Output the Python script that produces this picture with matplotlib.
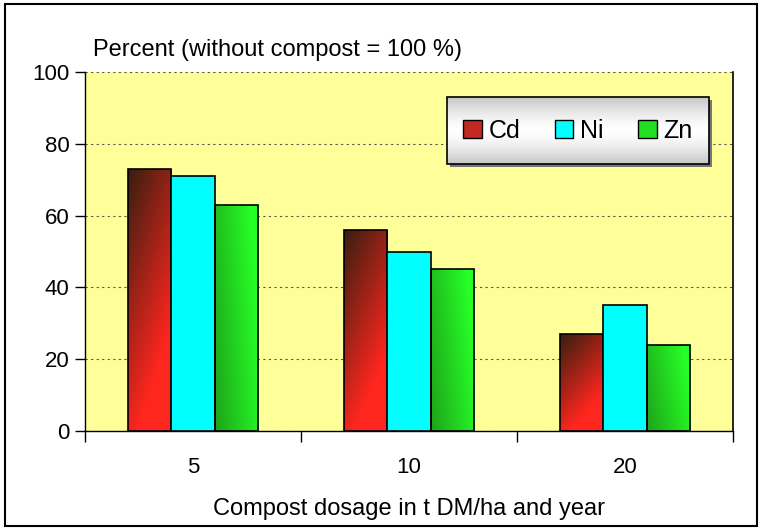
import numpy as np
import matplotlib.pyplot as plt
from matplotlib.patches import Rectangle, Patch

plt.rcParams['font.family'] = ['Liberation Sans', 'DejaVu Sans']

# data
dosages = ['5', '10', '20']
metals = ['Cd', 'Ni', 'Zn']
cd = [73, 56, 27]
ni = [71, 50, 35]
zn = [63, 45, 24]

fig = plt.figure(figsize=(7.62, 5.30), dpi=100)
fig.patch.set_facecolor('white')
# outer black frame
fig.add_artist(Rectangle((0.006, 0.008), 0.988, 0.985, transform=fig.transFigure,
                         fill=False, edgecolor='black', linewidth=1.5))

ax = fig.add_axes([85 / 762, 99 / 530, 648 / 762, 359 / 530])
ax.set_facecolor('#FFFF99')

x = np.arange(len(dosages))
w = 0.2


def grad_bar(xc, h, kind):
    bar = ax.bar(xc, h, w, facecolor='none', edgecolor='black', linewidth=1.2, zorder=3)[0]
    if kind == 'solid':
        bar.set_facecolor('#00FFFF')
        return
    n = 60
    u = np.linspace(0, 1, n)[None, :]
    v = np.linspace(0, 1, n)[:, None]   # 0 top, 1 bottom
    if kind == 'cd':
        t = np.clip(0.45 * u + 0.9 * v, 0, 1)
        c0 = np.array([0.22, 0.12, 0.06])
        c1 = np.array([1.0, 0.15, 0.12])
    else:
        t = np.clip(0.35 + 0.55 * u + 0.2 * (1 - v), 0, 1)
        c0 = np.array([0.10, 0.45, 0.08])
        c1 = np.array([0.15, 1.0, 0.15])
    img = c0[None, None, :] * (1 - t[..., None]) + c1[None, None, :] * t[..., None]
    im = ax.imshow(img, extent=[xc - w / 2, xc + w / 2, 0, h], aspect='auto',
                   origin='upper', zorder=2.5, interpolation='bilinear')
    im.set_clip_path(bar)


for i in x:
    grad_bar(i - w, cd[i], 'cd')
    grad_bar(i, ni[i], 'solid')
    grad_bar(i + w, zn[i], 'zn')

ax.set_xlim(-0.5, 2.5)
ax.set_ylim(0, 100)
ax.set_yticks([0, 20, 40, 60, 80, 100])
ax.yaxis.grid(True, linestyle=(0, (2, 3)), color='#555555', linewidth=0.8)
ax.set_axisbelow(True)

ax.set_xticks([-0.5, 0.5, 1.5, 2.5])
ax.set_xticklabels([])
ax.set_xticks(x, minor=True)
ax.set_xticklabels(dosages, minor=True)
ax.tick_params(axis='x', which='major', length=8, direction='out', width=1)
ax.tick_params(axis='x', which='minor', length=0, pad=19, labelsize=16)
ax.tick_params(axis='y', length=7, direction='out', width=1, labelsize=16, pad=4)

ax.spines['top'].set_visible(False)
ax.spines['right'].set_linewidth(1.2)
ax.spines['left'].set_linewidth(1)
ax.spines['bottom'].set_linewidth(1)

fig.text((85 + 733) / 2 / 762, 1 - 509 / 530, 'Compost dosage in t DM/ha and year',
         fontsize=17, ha='center', va='center')
fig.text(93 / 762, 1 - 50 / 530, 'Percent (without compost = 100 %)', fontsize=17,
         va='center', ha='left')

# legend box with gradient background
lx0, lx1 = (447 - 85) / 648, (709 - 85) / 648
ly0, ly1 = (431 - 164) / 359, (431 - 97) / 359
ax.add_patch(Rectangle((lx0 + 0.004, ly0 - 0.008), lx1 - lx0, ly1 - ly0, transform=ax.transAxes,
                       facecolor='#777777', edgecolor='none', zorder=4.4, clip_on=False))
gv = np.abs(np.linspace(-1, 1, 50))[:, None]
gimg = np.repeat((1.0 - 0.22 * gv ** 1.5)[..., None], 3, axis=2) * np.ones((1, 2, 1))
ax.imshow(gimg, extent=[lx0, lx1, ly0, ly1], transform=ax.transAxes, aspect='auto',
          zorder=4.5, interpolation='bilinear')
ax.add_patch(Rectangle((lx0, ly0), lx1 - lx0, ly1 - ly0, transform=ax.transAxes,
                       facecolor='none', edgecolor='black', linewidth=1.2, zorder=4.6))
ax.set_xlim(-0.5, 2.5)
ax.set_ylim(0, 100)

handles = [Patch(facecolor='#c02a20', edgecolor='black', label='Cd'),
           Patch(facecolor='#00FFFF', edgecolor='black', label='Ni'),
           Patch(facecolor='#22dd22', edgecolor='black', label='Zn')]
leg = ax.legend(handles=handles, loc='center', bbox_to_anchor=((lx0 + lx1) / 2, (ly0 + ly1) / 2),
                ncol=3, frameon=False, fontsize=18, handlelength=0.75, handleheight=0.75,
                handletextpad=0.28, columnspacing=1.36)
leg.set_zorder(5)

fig.savefig('out.png', dpi=100)
